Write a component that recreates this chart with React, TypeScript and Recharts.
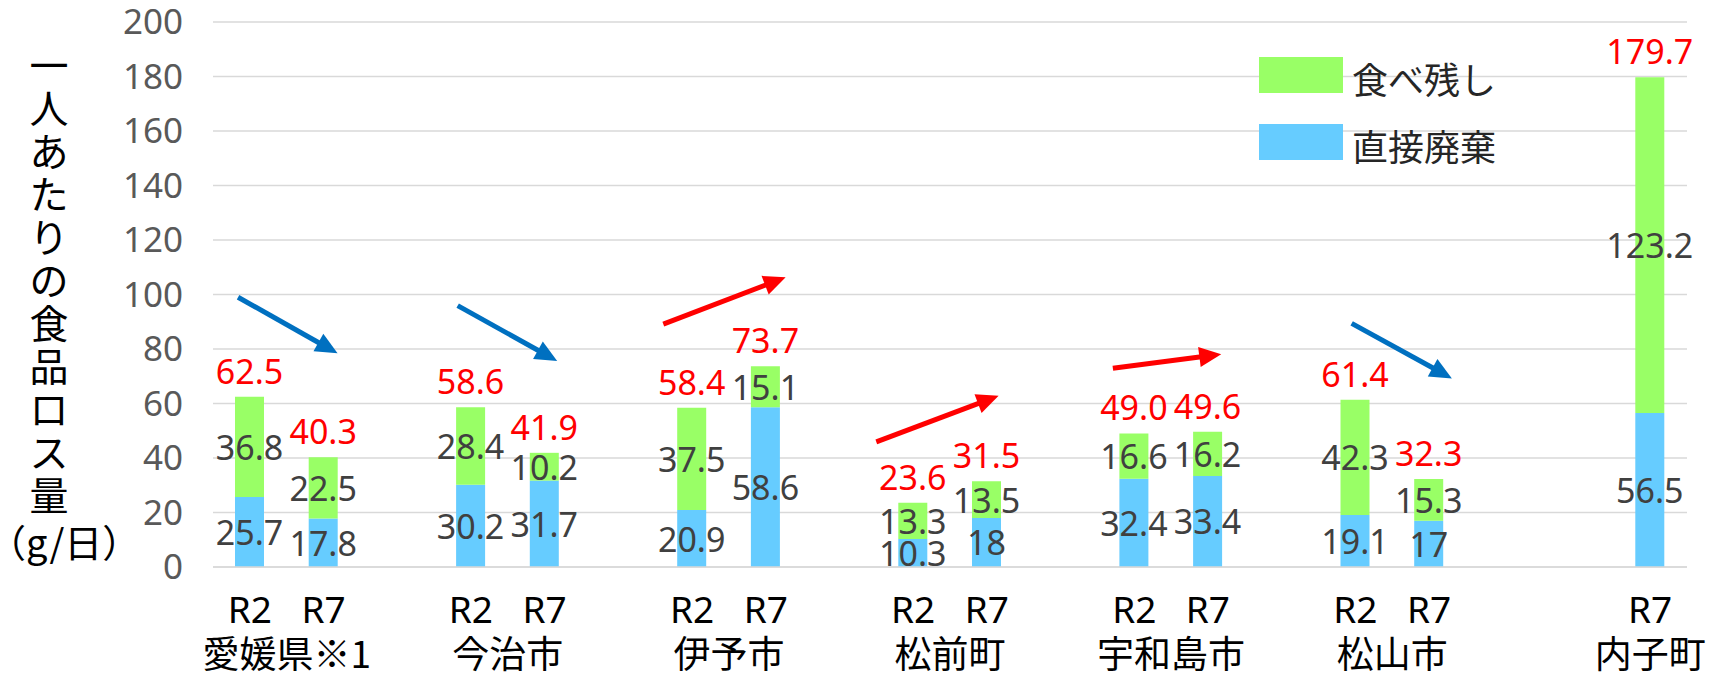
import {
  Bar,
  BarChart,
  CartesianGrid,
  LabelList,
  ReferenceLine,
  XAxis,
  YAxis,
} from "recharts";

// 市町ごとの一人あたり食品ロス量 (g/日)
const groups = ["愛媛県※1", "今治市", "伊予市", "松前町", "宇和島市", "松山市", "内子町"];

const directR2 = [25.7, 30.2, 20.9, 10.3, 32.4, 19.1, null];
const leftoverR2 = [36.8, 28.4, 37.5, 13.3, 16.6, 42.3, null];
const totalR2 = [62.5, 58.6, 58.4, 23.6, 49.0, 61.4, null];

const directR7 = [17.8, 31.7, 58.6, 18, 33.4, 17, 56.5];
const leftoverR7 = [22.5, 10.2, 15.1, 13.5, 16.2, 15.3, 123.2];
const totalR7 = [40.3, 41.9, 73.7, 31.5, 49.6, 32.3, 179.7];

const yTicks = [0, 20, 40, 60, 80, 100, 120, 140, 160, 180, 200];

const legendItems = [
  { name: "食べ残し", color: "#99FF66" },
  { name: "直接廃棄", color: "#66CCFF" },
];

const axisTitle = "一人あたりの食品ロス量";
const axisUnit = "（g/日）";

// trend arrows, x in slot units (slot i centre = i + 0.5), y in g/日
const trendArrows = [
  { from: [0.34, 99.0], to: [1.69, 78.4], color: "#0070C0" },
  { from: [3.32, 95.9], to: [4.67, 75.6], color: "#0070C0" },
  { from: [6.11, 89.1], to: [7.77, 106.3], color: "#FF0000" },
  { from: [9.0, 45.9], to: [10.66, 62.8], color: "#FF0000" },
  { from: [12.21, 72.9], to: [13.68, 78.1], color: "#FF0000" },
  { from: [15.45, 89.4], to: [16.81, 69.2], color: "#0070C0" },
];

type Row = {
  key: string;
  slot: number;
  group: number;
  period: string;
  direct: number | null;
  leftover: number | null;
  total: number | null;
};

const rows: Row[] = [];
const addRow = (r: Omit<Row, "slot">) => rows.push({ ...r, slot: rows.length + 0.5 });
groups.forEach((g, gi) => {
  addRow({ key: `${g}-R2`, group: gi, period: directR2[gi] == null ? "" : "R2", direct: directR2[gi], leftover: leftoverR2[gi], total: totalR2[gi] });
  addRow({ key: `${g}-R7`, group: gi, period: "R7", direct: directR7[gi], leftover: leftoverR7[gi], total: totalR7[gi] });
  if (gi < groups.length - 1) {
    addRow({ key: `gap-${gi}`, group: -1, period: "", direct: null, leftover: null, total: null });
  }
});

const W = 1712;
const H = 676;
const Y_W = 213;
const M_RIGHT = 25;
const M_TOP = 22;
const X_H = 109;
const band = (W - Y_W - M_RIGHT) / rows.length;

const font = "'Noto Sans', sans-serif";
const jpFont = "'Noto Sans CJK JP', sans-serif";

function SlotTick(props: any) {
  const { x, y, payload } = props;
  const idx = rows.findIndex((r) => r.key === payload.value);
  const row = rows[idx];
  if (!row) return null;
  let groupLabel = null;
  const next = rows[idx + 1];
  if (row.group >= 0 && (!next || next.group !== row.group)) {
    const present = rows.filter((r) => r.group === row.group && r.period !== "").length;
    groupLabel = (
      <text
        x={x - ((present - 1) * band) / 2}
        y={y + 85}
        textAnchor="middle"
        dominantBaseline="central"
        fontSize={37}
        fontFamily={jpFont}
        fill="#000"
      >
        {groups[row.group]}
      </text>
    );
  }
  return (
    <g>
      {row.period && (
        <text x={x} y={y + 41} textAnchor="middle" dominantBaseline="central" fontSize={37} fontFamily={font} fill="#000">
          {row.period}
        </text>
      )}
      {groupLabel}
    </g>
  );
}

function SegmentLabel(props: any) {
  const vb = props.viewBox ?? props;
  const { x, y, width, height } = vb;
  if (props.value == null || !height) return null;
  return (
    <text
      x={x + width / 2}
      y={y + height / 2}
      textAnchor="middle"
      dominantBaseline="central"
      fontSize={34}
      fontFamily={font}
      fill="#404040"
    >
      {props.value}
    </text>
  );
}

function TotalLabel(props: any) {
  const vb = props.viewBox ?? props;
  const { x, y, width } = vb;
  if (props.value == null) return null;
  return (
    <text
      x={x + width / 2}
      y={y - 26}
      textAnchor="middle"
      dominantBaseline="central"
      fontSize={34}
      fontFamily={font}
      fill="#FF0000"
    >
      {Number(props.value).toFixed(1)}
    </text>
  );
}

function TrendArrow(props: any) {
  const { x1, y1, x2, y2, color } = props;
  const dx = x2 - x1;
  const dy = y2 - y1;
  const len = Math.hypot(dx, dy) || 1;
  const ux = dx / len;
  const uy = dy / len;
  const head = 22;
  const half = 10;
  const bx = x2 - ux * head;
  const by = y2 - uy * head;
  const px = -uy;
  const py = ux;
  return (
    <g>
      <line x1={x1} y1={y1} x2={bx + ux * 2} y2={by + uy * 2} stroke={color} strokeWidth={5} />
      <polygon
        points={`${x2},${y2} ${bx + px * half},${by + py * half} ${bx - px * half},${by - py * half}`}
        fill={color}
      />
    </g>
  );
}

export default function App() {
  return (
    <div style={{ position: "relative", width: W, height: H, background: "#fff" }}>
      <style>{"body{margin:0}"}</style>
      <BarChart
        width={W}
        height={H}
        data={rows}
        margin={{ top: M_TOP, right: M_RIGHT, left: 0, bottom: 0 }}
        barSize={29}
      >
        <CartesianGrid vertical={false} stroke="#D9D9D9" strokeWidth={1.5} />
        <XAxis
          dataKey="key"
          interval={0}
          height={X_H}
          tickLine={false}
          tickSize={0}
          tickMargin={0}
          axisLine={{ stroke: "#D9D9D9", strokeWidth: 1.5 }}
          tick={<SlotTick />}
        />
        <XAxis
          xAxisId="num"
          dataKey="slot"
          type="number"
          domain={[0, rows.length]}
          allowDataOverflow
          padding={{ left: 0, right: 0 }}
          hide
        />
        <YAxis
          width={Y_W}
          domain={[0, 200]}
          ticks={yTicks}
          axisLine={false}
          tickLine={false}
          tickSize={0}
          tickMargin={30}
          tick={{ fontSize: 35, fontFamily: font, fill: "#595959" }}
        />
        <Bar dataKey="direct" stackId="a" fill="#66CCFF" isAnimationActive={false}>
          <LabelList dataKey="direct" content={<SegmentLabel />} />
        </Bar>
        <Bar dataKey="leftover" stackId="a" fill="#99FF66" isAnimationActive={false}>
          <LabelList dataKey="leftover" content={<SegmentLabel />} />
          <LabelList dataKey="total" content={<TotalLabel />} />
        </Bar>
        {trendArrows.map((a, i) => (
          <ReferenceLine
            key={i}
            xAxisId="num"
            segment={[
              { x: a.from[0], y: a.from[1] },
              { x: a.to[0], y: a.to[1] },
            ]}
            ifOverflow="visible"
            shape={(p: any) => <TrendArrow {...p} color={a.color} />}
          />
        ))}
      </BarChart>

      <div
        style={{
          position: "absolute",
          left: 0,
          top: 42,
          width: 98,
          textAlign: "center",
          fontFamily: jpFont,
          fontSize: 39,
          lineHeight: "43px",
          color: "#000",
        }}
      >
        {axisTitle.split("").map((c, i) => (
          <div key={i}>{c}</div>
        ))}
        <div style={{ fontSize: 38, marginLeft: -12, marginTop: 4, whiteSpace: "nowrap" }}>{axisUnit}</div>
      </div>

      {legendItems.map((item, i) => (
        <div
          key={item.name}
          style={{
            position: "absolute",
            left: 1259,
            top: 57 + i * 67,
            display: "flex",
            alignItems: "center",
            fontFamily: jpFont,
            fontSize: 36,
            color: "#262626",
          }}
        >
          <div style={{ width: 84, height: 36, background: item.color }} />
          <div style={{ marginLeft: 9, lineHeight: "36px", position: "relative", top: 3 }}>{item.name}</div>
        </div>
      ))}
    </div>
  );
}
